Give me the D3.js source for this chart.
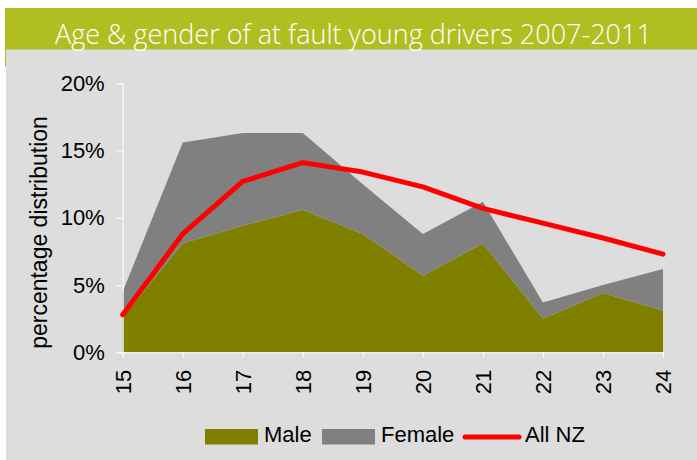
<!DOCTYPE html>
<html>
<head>
<meta charset="utf-8">
<script src="https://cdn.jsdelivr.net/npm/d3@7"></script>
<style>
  html, body { margin: 0; padding: 0; background: #ffffff; }
  svg { display: block; }
  text { font-family: "Liberation Sans", Arial, sans-serif; }
</style>
</head>
<body>
<svg id="chart" width="697" height="460"></svg>
<script>
const title = "Age & gender of at fault young drivers 2007-2011";
const ages = [15, 16, 17, 18, 19, 20, 21, 22, 23, 24];
const male = [2.6, 8.1, 9.4, 10.6, 8.8, 5.7, 8.1, 2.5, 4.4, 3.1];
const female = [1.9, 7.5, 6.9, 5.7, 3.7, 3.1, 3.1, 1.2, 0.6, 3.1];
const allNZ = [2.8, 8.8, 12.7, 14.1, 13.4, 12.3, 10.7, 9.6, 8.5, 7.3];
const yTicks = [0, 5, 10, 15, 20];
const yTitle = "percentage distribution";
const seriesNames = ["Male", "Female", "All NZ"];
const colors = { Male: "#808000", Female: "#808080", "All NZ": "#ff0000" };

const svg = d3.select("#chart");

// panel and title band
svg.append("rect").attr("x", 6).attr("y", 49).attr("width", 691).attr("height", 411).attr("fill", "#dddddd");
svg.append("rect").attr("x", 5).attr("y", 8).attr("width", 692).attr("height", 41.5).attr("fill", "#b1be22");
svg.append("rect").attr("x", 5).attr("y", 49).attr("width", 1).attr("height", 18).attr("fill", "#b1be22");

const t = svg.append("text")
  .attr("x", 55).attr("y", 43.5)
  .attr("fill", "#ffffff")
  .style("font-family", "'Open Sans', 'Noto Sans', sans-serif")
  .style("font-weight", 300)
  .style("font-size", "28px")
  .text(title);
const tw = t.node().getComputedTextLength();
t.style("font-size", (28 * 597 / tw).toFixed(2) + "px");

const x = d3.scaleLinear().domain([15, 24]).range([122.7, 663]);
const y = d3.scaleLinear().domain([0, 20]).range([352.3, 83.3]);

const rows = ages.map((a, i) => ({ age: a, Male: male[i], Female: female[i] }));
const stacked = d3.stack().keys(["Male", "Female"])(rows);

const area = d3.area()
  .x(d => x(d.data.age))
  .y0(d => y(d[0]))
  .y1(d => y(d[1]));

svg.append("g").selectAll("path")
  .data(stacked)
  .join("path")
  .attr("d", area)
  .attr("fill", d => colors[d.key]);

// axes
const yAxis = d3.axisLeft(y).tickValues(yTicks).tickFormat(d => d + "%").tickSize(6).tickPadding(12);
const gy = svg.append("g").attr("transform", "translate(122.7,0)").call(yAxis);
gy.select(".domain").attr("stroke", "#ffffff").attr("stroke-width", 1);
gy.selectAll(".tick line").attr("stroke", "#ffffff");
gy.selectAll(".tick text").attr("fill", "#000").style("font-size", "22px")
  .style("font-family", "'Liberation Sans', Arial, sans-serif");

const xAxis = d3.axisBottom(x).tickValues(ages).tickFormat(d3.format("d")).tickSize(5);
const gx = svg.append("g").attr("transform", "translate(0,352.3)").call(xAxis);
gx.select(".domain").attr("stroke", "#ffffff").attr("stroke-width", 1);
gx.selectAll(".tick line").attr("stroke", "#ffffff");
gx.selectAll(".tick text")
  .attr("fill", "#000")
  .style("font-size", "22px")
  .style("font-family", "'Liberation Sans', Arial, sans-serif")
  .attr("transform", "rotate(-90)")
  .attr("x", -17.5)
  .attr("y", 0)
  .attr("dy", "0.35em")
  .attr("text-anchor", "end");

// All NZ line
const line = d3.line().x((d, i) => x(ages[i])).y(d => y(d));
svg.append("path")
  .attr("d", line(allNZ))
  .attr("fill", "none")
  .attr("stroke", colors["All NZ"])
  .attr("stroke-width", 5)
  .attr("stroke-linejoin", "round")
  .attr("stroke-linecap", "round");

// y title
svg.append("text")
  .attr("transform", "translate(47,232.5) rotate(-90)")
  .attr("text-anchor", "middle")
  .attr("fill", "#000")
  .style("font-size", "23px")
  .text(yTitle);

// legend
const lg = svg.append("g");
lg.append("rect").attr("x", 205).attr("y", 429).attr("width", 53).attr("height", 15.5).attr("fill", colors.Male);
lg.append("text").attr("x", 264).attr("y", 442).style("font-size", "22px").attr("fill", "#000").text(seriesNames[0]);
lg.append("rect").attr("x", 322).attr("y", 429).attr("width", 53).attr("height", 15.5).attr("fill", colors.Female);
lg.append("text").attr("x", 381).attr("y", 442).style("font-size", "22px").attr("fill", "#000").text(seriesNames[1]);
lg.append("line").attr("x1", 465).attr("x2", 519).attr("y1", 437).attr("y2", 437)
  .attr("stroke", colors["All NZ"]).attr("stroke-width", 5).attr("stroke-linecap", "round");
lg.append("text").attr("x", 525).attr("y", 442).style("font-size", "22px").attr("fill", "#000").text(seriesNames[2]);
</script>
</body>
</html>
